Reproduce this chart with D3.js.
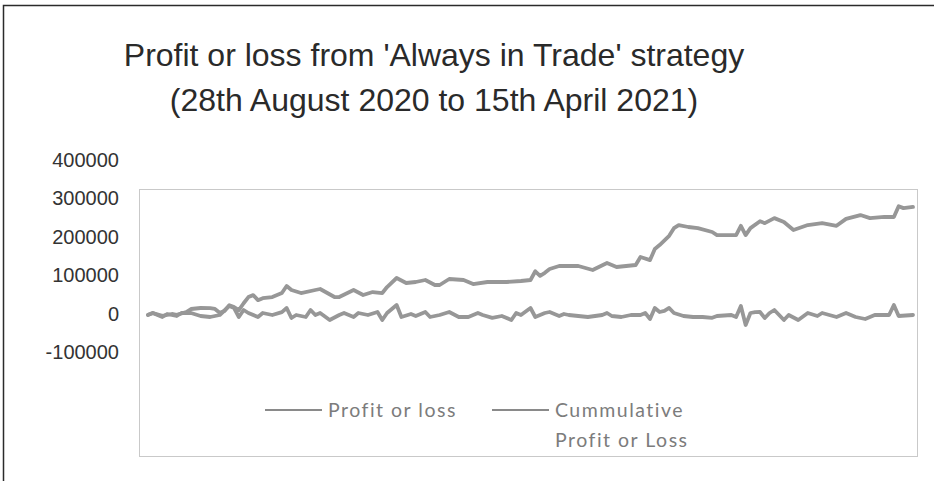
<!DOCTYPE html>
<html>
<head>
<meta charset="utf-8">
<script src="https://cdn.jsdelivr.net/npm/d3@7"></script>
<style>
  body { margin: 0; background: #fff; }
  svg { display: block; }
</style>
</head>
<body>
<svg id="drawing_region"></svg>
<script>
// trading-day index (0 = 28 Aug 2020, 160 = 15 Apr 2021) and values
const cumDays = [0,1,3,5,6,8,9,11,13,14,15,16,17,18,19,20,21,22,23,24,26,28,29,30,32,35,36,39,40,43,45,47,49,50,52,54,56,58,60,61,63,66,68,71,75,78,80,81,82,83,84,86,90,93,96,98,102,103,105,106,107,109,110,111,113,115,118,119,123,124,125,126,128,129,131,133,135,138,141,144,146,149,151,154,156,157,158,160];
const cumValues = [-2000,2600,-5000,0,-2000,5000,13000,15600,15000,13000,3000,8000,23000,18000,10000,28000,44000,49000,36000,41000,44000,54500,72700,62300,54500,62300,64900,44100,44000,62300,49300,57000,54500,70100,93500,80500,83100,88300,75300,75300,90900,88300,77900,83100,83100,85700,88300,111000,99000,107000,116900,124700,124700,114300,132400,122100,127300,148000,140000,169000,179000,203000,223000,231000,226000,223000,213000,205000,205000,229000,205000,223000,241000,236000,249000,239000,218000,231000,236000,229000,247000,257000,249000,252000,252000,280000,275000,278000];

const plDays = [0,1,3,4,6,7,9,11,13,15,17,18,19,20,21,23,24,26,28,29,30,31,33,34,35,36,38,40,41,43,44,46,48,49,50,52,53,55,56,58,59,61,63,65,67,69,70,72,74,76,77,78,80,81,83,84,86,87,88,90,92,95,96,97,99,101,103,104,105,106,107,108,109,110,112,114,116,118,119,122,123,124,125,126,127,128,129,130,131,133,134,136,138,140,141,144,146,148,150,152,155,156,157,160];
const plValues = [-2600,2600,-7800,0,-5200,2600,2600,-5200,-7800,-2600,20800,15600,-7800,10400,2600,-7800,2600,-2600,5000,15600,-10400,-2600,-7800,10400,-2600,2600,-15600,-2600,2600,-7800,2600,-2600,5200,-15600,2600,23400,-7800,0,-5200,5200,-7800,-2600,5200,-7800,-7800,2600,-2600,-10000,-5200,-15600,2600,-2600,15600,-7800,2600,5200,-5200,0,-2600,-5200,-7800,-2600,2600,-5200,-7800,-2600,-2600,2600,-13000,15600,5200,8000,15600,2600,-5200,-7800,-7800,-10000,-5200,-2600,-7800,20800,-28600,2600,5000,5200,-10400,2600,10400,-15600,-2600,-15600,2600,-5200,2600,-7800,2600,-7800,-13000,-2600,-2600,23400,-5200,-2600];

const yTicks = [-100000, 0, 100000, 200000, 300000, 400000];
const seriesNames = ["Profit or loss", "Cummulative"];
const titleLines = ["Profit or loss from 'Always in Trade' strategy", "(28th August 2020 to 15th April 2021)"];

const width = 934, height = 481;
const lineColor = "#979797";

const svg = d3.select("#drawing_region")
    .attr("width", width)
    .attr("height", height);

// outer frame (only left and top edges are visible)
svg.append("path")
    .attr("d", `M3.5,${height} L3.5,5.5 L${width},5.5`)
    .attr("fill", "none")
    .attr("stroke", "#2b2b2b")
    .attr("stroke-width", 1.5);

// title
svg.append("g").selectAll("text")
    .data(titleLines)
    .join("text")
    .attr("x", 434)
    .attr("y", (d, i) => 66 + i * 45)
    .attr("text-anchor", "middle")
    .attr("font-family", "'Liberation Sans', Arial, sans-serif")
    .attr("font-size", "32px")
    .attr("fill", "#2a2a2a")
    .text(d => d);

// plot area box
svg.append("rect")
    .attr("x", 139.5)
    .attr("y", 189.5)
    .attr("width", 778)
    .attr("height", 267)
    .attr("fill", "none")
    .attr("stroke", "#c9c9c9")
    .attr("stroke-width", 1);

const x = d3.scaleLinear().domain([0, 160]).range([148, 913]);
const y = d3.scaleLinear().domain([-100000, 400000]).range([352.5, 160]);

// y labels (no axis line)
const yAxis = d3.axisLeft(y).tickValues(yTicks).tickSize(0).tickPadding(0).tickFormat(d => String(d));
const yg = svg.append("g")
    .attr("transform", "translate(119,0)")
    .call(yAxis);
yg.select(".domain").remove();
yg.selectAll("text")
    .attr("font-family", "'Liberation Sans', Arial, sans-serif")
    .attr("font-size", "20px")
    .attr("fill", "#333");

const line = d3.line()
    .x(d => x(d[0]))
    .y(d => y(d[1]));

const plData = d3.zip(plDays, plValues);
const cumData = d3.zip(cumDays, cumValues);

[plData, cumData].forEach(data => {
    svg.append("path")
        .datum(data)
        .attr("d", line)
        .attr("fill", "none")
        .attr("stroke", lineColor)
        .attr("stroke-width", 3.8)
        .attr("stroke-linejoin", "round")
        .attr("stroke-linecap", "round");
});

// legend
const legend = svg.append("g")
    .attr("font-family", "Lato, 'Noto Sans', sans-serif")
    .attr("font-size", "19.5px")
    .attr("letter-spacing", "1.5px")
    .attr("fill", "#7c7c7c");

const legendX = [265, 492];
seriesNames.forEach((name, i) => {
    legend.append("line")
        .attr("x1", legendX[i]).attr("x2", legendX[i] + 57)
        .attr("y1", 410).attr("y2", 410)
        .attr("stroke", "#8a8a8a")
        .attr("stroke-width", 2);
    legend.append("text")
        .attr("x", legendX[i] + 63)
        .attr("y", 417)
        .text(name);
});
legend.append("text")
    .attr("x", legendX[1] + 63)
    .attr("y", 447)
    .text("Profit or Loss");
</script>
</body>
</html>
